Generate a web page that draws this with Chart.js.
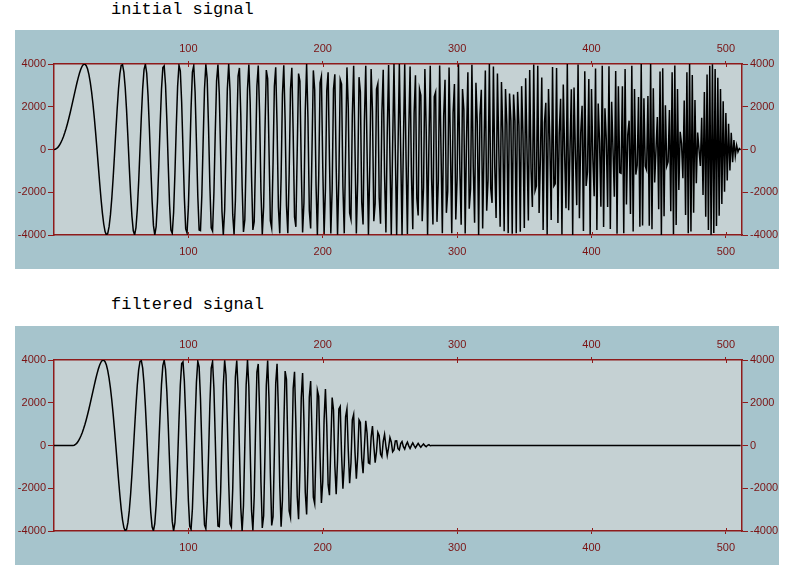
<!DOCTYPE html>
<html>
<head>
<meta charset="utf-8">
<script src="https://cdn.jsdelivr.net/npm/chart.js@4/dist/chart.umd.min.js"></script>
<style>
  body { margin: 0; background: #fff; width: 785px; height: 576px; position: relative; overflow: hidden; }
  .title { position: absolute; left: 111px; font: 17px "Liberation Mono", "Courier New", monospace; color: #000; line-height: 20px; white-space: pre; }
  canvas { position: absolute; left: 15px; background: #a6c4cc; }
</style>
</head>
<body>
<div class="title" style="top:0px">initial signal</div>
<canvas id="top" width="764" height="239" style="top:30px"></canvas>
<div class="title" style="top:295px">filtered signal</div>
<canvas id="bottom" width="764" height="239" style="top:326px"></canvas>
<script>
// x ticks and y ticks
let xTicks = [100, 200, 300, 400, 500];
let yTicks = [4000, 2000, 0, -2000, -4000];

// chirp, 512 samples
let initialSignal = [
  0,12,49,110,196,306,441,599,780,984,1208,1451,1710,1981,2262,2547,2828,3100,3352,3578,3766,3904,3985,3994,3923,3762,3504,3145,2686,2129,1485,768,
  0,-792,-1576,-2313,-2964,-3486,-3841,-3995,-3923,-3611,-3060,-2293,-1348,-282,828,1897,2828,3534,3931,3968,3616,2888,1842,575,-780,-2066,-3122,-3801,-3995,-3651,-2793,-1519,
  0,1542,2862,3736,3995,3567,2499,960,-780,-2393,-3550,-3998,-3616,-2451,-732,1173,2828,3831,3912,3020,1348,-696,-2575,-3770,-3923,-2956,-1114,1078,2964,3942,3676,2212,
  0,-2232,-3714,-3899,-2686,-477,1928,3621,3923,2677,343,-2150,-3766,-3793,-2181,404,2828,3982,3298,1055,-1710,-3661,-3813,-2045,780,3220,3975,2603,-196,-2905,-3999,-2820,
  0,2837,3999,2748,-196,-3036,-3975,-2374,780,3437,3813,1609,-1710,-3857,-3298,-380,2828,3980,2181,-1266,-3766,-3372,-343,2972,3923,1699,-1928,-3971,-2686,888,3714,3319,
  0,-3333,-3676,-671,2964,3851,1114,-2695,-3923,-1337,2575,3938,1348,-2621,-3912,-1149,2828,3825,732,-3160,-3616,-86,3550,3206,-780,-3883,-2499,1809,3995,1428,-2862,-3691,
  0,3700,2793,-1632,-3995,-1243,3122,3424,-780,-3959,-1842,2766,3616,-502,-3931,-1875,2828,3522,-828,-3989,-1348,3277,3060,-1721,-3923,-184,3841,1960,-2964,-3262,1576,3920,
  0,-3925,-1485,3385,2686,-2470,-3504,1359,3923,-208,-3985,-864,3766,1787,-3352,-2529,2828,3084,-2262,-3473,1710,3727,-1208,-3877,780,3955,-441,-3987,196,3997,-49,-4000,
  0,4000,-49,-3997,196,3987,-441,-3955,780,3877,-1208,-3727,1710,3473,-2262,-3084,2828,2529,-3352,-1787,3766,864,-3985,208,3923,-1359,-3504,2470,2686,-3385,-1485,3925,
  0,-3920,1576,3262,-2964,-1960,3841,184,-3923,1721,3060,-3277,-1348,3989,-828,-3522,2828,1875,-3931,502,3616,-2766,-1842,3959,-780,-3424,3122,1243,-3995,1632,2793,-3700,
  0,3691,-2862,-1428,3995,-1809,-2499,3883,-780,-3206,3550,86,-3616,3160,732,-3825,2828,1149,-3912,2621,1348,-3938,2575,1337,-3923,2695,1114,-3851,2964,671,-3676,3333,
  0,-3319,3714,-888,-2686,3971,-1928,-1699,3923,-2972,-343,3372,-3766,1266,2181,-3980,2828,380,-3298,3857,-1710,-1609,3813,-3437,780,2374,-3975,3036,-196,-2748,3999,-2837,
  0,2820,-3999,2905,-196,-2603,3975,-3220,780,2045,-3813,3661,-1710,-1055,3298,-3982,2828,-404,-2181,3793,-3766,2150,343,-2677,3923,-3621,1928,477,-2686,3899,-3714,2232,
  0,-2212,3676,-3942,2964,-1078,-1114,2956,-3923,3770,-2575,696,1348,-3020,3912,-3831,2828,-1173,-732,2451,-3616,3998,-3550,2393,-780,-960,2499,-3567,3995,-3736,2862,-1542,
  0,1519,-2793,3651,-3995,3801,-3122,2066,-780,-575,1842,-2888,3616,-3968,3931,-3534,2828,-1897,828,282,-1348,2293,-3060,3611,-3923,3995,-3841,3486,-2964,2313,-1576,792,
  0,-768,1485,-2129,2686,-3145,3504,-3762,3923,-3994,3985,-3904,3766,-3578,3352,-3100,2828,-2547,2262,-1981,1710,-1451,1208,-984,780,-599,441,-306,196,-110,49,-12
];

// low-passed and delayed
let filteredSignal = [
  0,0,0,0,0,0,0,0,0,0,0,0,0,0,0,12,49,110,196,306,441,599,780,984,1208,1451,1710,1981,2262,2547,2828,3100,
  3352,3578,3766,3904,3985,3994,3923,3762,3504,3145,2686,2129,1485,768,0,-792,-1576,-2313,-2964,-3486,-3841,-3995,-3923,-3611,-3060,-2293,-1348,-282,828,1897,2828,3534,
  3931,3968,3616,2888,1842,575,-780,-2066,-3122,-3801,-3995,-3651,-2793,-1519,0,1542,2862,3736,3995,3567,2499,960,-780,-2393,-3550,-3998,-3616,-2451,-732,1173,2828,3831,
  3912,3020,1348,-696,-2575,-3770,-3923,-2956,-1114,1078,2964,3942,3676,2212,0,-2232,-3714,-3899,-2686,-477,1928,3621,3923,2677,343,-2150,-3766,-3793,-2181,404,2828,3982,
  3298,1055,-1710,-3661,-3813,-2045,780,3220,3975,2603,-196,-2905,-3999,-2820,0,2837,3999,2748,-196,-3036,-3975,-2374,780,3437,3813,1609,-1710,-3857,-3298,-380,2828,3980,
  2181,-1261,-3736,-3332,-338,2913,3821,1645,-1855,-3796,-2552,838,3484,3093,0,-3066,-3360,-609,2674,3450,991,-2382,-3444,-1166,2230,3387,1143,-2191,-3223,-933,2262,3014,
  568,-2414,-2719,-64,2584,2295,-549,-2687,-1699,1212,2637,928,-1832,-2325,0,2242,1659,-950,-2277,-694,1705,1828,-407,-2019,-917,1344,1714,-232,-1769,-821,1205,1458,
  -333,-1556,-510,1199,1083,-589,-1295,-58,1160,564,-812,-848,388,909,0,-801,-282,609,457,-395,-526,190,518,-26,-462,-93,377,168,-295,-207,215,216,
  -147,-208,94,186,-54,-167,32,154,-16,-140,6,124,-1,-108,0,96,-1,-84,4,72,-7,-55,10,43,-12,0,0,0,0,0,0,0,
  0,0,0,0,0,0,0,0,0,0,0,0,0,0,0,0,0,0,0,0,0,0,0,0,0,0,0,0,0,0,0,0,
  0,0,0,0,0,0,0,0,0,0,0,0,0,0,0,0,0,0,0,0,0,0,0,0,0,0,0,0,0,0,0,0,
  0,0,0,0,0,0,0,0,0,0,0,0,0,0,0,0,0,0,0,0,0,0,0,0,0,0,0,0,0,0,0,0,
  0,0,0,0,0,0,0,0,0,0,0,0,0,0,0,0,0,0,0,0,0,0,0,0,0,0,0,0,0,0,0,0,
  0,0,0,0,0,0,0,0,0,0,0,0,0,0,0,0,0,0,0,0,0,0,0,0,0,0,0,0,0,0,0,0,
  0,0,0,0,0,0,0,0,0,0,0,0,0,0,0,0,0,0,0,0,0,0,0,0,0,0,0,0,0,0,0,0,
  0,0,0,0,0,0,0,0,0,0,0,0,0,0,0,0,0,0,0,0,0,0,0,0,0,0,0,0,0,0,0,0
];

let red = '#8e1b1b';
let labelRed = '#7a1212';
let plotBg = '#c5d1d3';
let font = { family: "'Liberation Sans', Arial, sans-serif", size: 11 };

// plot background + little tick marks poking into the plot
let frame = {
  id: 'frame',
  beforeDraw(chart) {
    let a = chart.chartArea, ctx = chart.ctx;
    ctx.save();
    ctx.fillStyle = plotBg;
    ctx.fillRect(a.left, a.top, a.right - a.left, a.bottom - a.top);
    ctx.restore();
  },
  afterDraw(chart) {
    let a = chart.chartArea, ctx = chart.ctx;
    ctx.save();
    ctx.strokeStyle = red;
    ctx.lineWidth = 1;
    ctx.beginPath();
    xTicks.forEach(v => {
      let px = Math.round(chart.scales.x.getPixelForValue(v)) + 0.5;
      ctx.moveTo(px, a.bottom); ctx.lineTo(px, a.bottom - 3);
      ctx.moveTo(px, a.top); ctx.lineTo(px, a.top + 3);
    });
    ctx.stroke();
    ctx.restore();
  }
};

function xAxis(pos, pad) {
  return {
    type: 'linear', position: pos, min: 0, max: 512,
    afterBuildTicks: s => { s.ticks = xTicks.map(v => ({ value: v })); },
    afterFit: s => { s.height = 34; },
    grid: { drawOnChartArea: false, color: red, tickLength: 3, tickColor: red },
    border: { color: red, width: 1.5 },
    ticks: { color: labelRed, font: font, padding: pad, maxRotation: 0, callback: v => String(v) }
  };
}

function yAxis(pos, w) {
  return {
    type: 'linear', position: pos, min: -4000, max: 4000,
    afterBuildTicks: s => { s.ticks = yTicks.map(v => ({ value: v })); },
    afterFit: s => { s.width = w; },
    grid: { drawOnChartArea: false, color: red, tickLength: 6, tickColor: red },
    border: { color: red, width: 1.5 },
    ticks: { color: labelRed, font: font, padding: 2, callback: v => String(v) }
  };
}

function makeChart(id, values) {
  let ctx = document.getElementById(id).getContext('2d');
  return new Chart(ctx, {
    type: 'line',
    data: {
      datasets: [{
        data: values.map((v, i) => ({ x: i, y: v })),
        borderColor: '#000',
        borderWidth: 1.5,
        pointRadius: 0,
        tension: 0,
        xAxisID: 'x',
        yAxisID: 'y'
      }]
    },
    options: {
      animation: false,
      responsive: false,
      events: [],
      layout: { padding: 0 },
      plugins: { legend: { display: false }, tooltip: { enabled: false } },
      scales: {
        x: xAxis('bottom', 7),
        x2: xAxis('top', 5),
        y: yAxis('left', 39),
        y2: yAxis('right', 37)
      }
    },
    plugins: [frame]
  });
}

makeChart('top', initialSignal);
makeChart('bottom', filteredSignal);
</script>
</body>
</html>
